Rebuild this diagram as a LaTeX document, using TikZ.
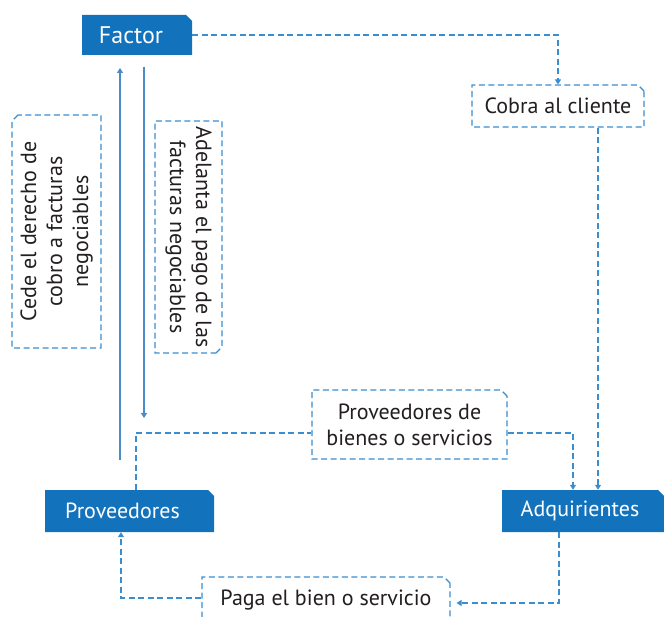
\documentclass[tikz,border=0pt]{standalone}
\usepackage{fontspec}
\setmainfont{PT Sans}
\usetikzlibrary{shapes.misc,arrows.meta}

\begin{document}
\begin{tikzpicture}[x = 1pt, y = -1pt,
  fact/.style = {chamfered rectangle, chamfered rectangle corners = north east, chamfered rectangle sep = 3pt,
    fill = boxblue, text = white, inner sep = 0pt, font = \fontsize{22}{26}\selectfont},
  note/.style = {chamfered rectangle, chamfered rectangle corners = north east, chamfered rectangle sep = 3pt,
    draw = lineblue, line width = 1.1pt, dash pattern = on 6pt off 3.5pt, fill = white, text = textgray,
    inner sep = 0pt, align = center, font = \fontsize{22}{26}\selectfont},
  link/.style = {draw = lineblue, line width = 1.1pt, dash pattern = on 6pt off 3.5pt},
  flow/.style = {draw = flowblue, line width = 1.2pt},
  tip/.style = {-{Triangle[length = 5pt, width = 6pt]}}]
\definecolor{boxblue}{HTML}{1272BC}
\definecolor{lineblue}{HTML}{3A8ED0}
\definecolor{flowblue}{HTML}{4A8BC8}
\definecolor{textgray}{HTML}{231F20}
\clip (0,0) rectangle (664,617);
% boxes
\node[fact, minimum width = 110pt, minimum height = 40pt, font = \fontsize{24}{28}\selectfont] (fac) at (137,35) {Factor\hspace*{12pt}};
\node[fact, minimum width = 169pt, minimum height = 42pt] (prov) at (129.5,511) {Proveedores\hspace*{14pt}};
\node[fact, minimum width = 162pt, minimum height = 42pt] (adq) at (583,511) {Adquirientes\hspace*{6pt}};
% labels
\node[note, minimum width = 172pt, minimum height = 42pt] (cob) at (558,106) {Cobra al cliente};
\node[note, minimum width = 195pt, minimum height = 69pt] (pbs) at (409.5,424.5) {Proveedores de\\bienes o servicios};
\node[note, minimum width = 248pt, minimum height = 46pt] (paga) at (326,600) {Paga el bien o servicio};
\node[note, rotate = 90, minimum width = 233pt, minimum height = 89pt] (cede) at (56.5,231.5)
  {Cede el derecho de\\cobro a facturas\\negociables};
\node[note, rotate = -90, minimum width = 232pt, minimum height = 67pt] (adel) at (188.5,237)
  {Adelanta el pago de las\\facturas negociables};
% solid flows
\coordinate (cedeA) at (120,460);
\coordinate (cedeB) at (120,68);
\coordinate (adelA) at (144,67);
\coordinate (adelB) at (144,418);
\draw[flow, tip] (cedeA) -- (cedeB);
\draw[flow, tip] (adelA) -- (adelB);
% dashed links
\draw[link, tip] (fac.east) -- (fac.east -| cob.north) -- (cob.north);
\draw[link, tip] ([xshift = 40pt]cob.south) -- ([xshift = 15pt]adq.north);
\draw[link] ([xshift = 6.5pt]prov.north) |- ([yshift = -8.5pt]pbs.west);
\draw[link, tip] ([yshift = -8.5pt]pbs.east) -| ([xshift = -10pt]adq.north);
\draw[link, tip] ([xshift = -24pt]adq.south) |- ([xshift = 6pt, yshift = -3pt]paga.east);
\draw[link, tip] ([yshift = 2pt]paga.west) -| ([xshift = -8.5pt]prov.south);
\end{tikzpicture}
\end{document}
